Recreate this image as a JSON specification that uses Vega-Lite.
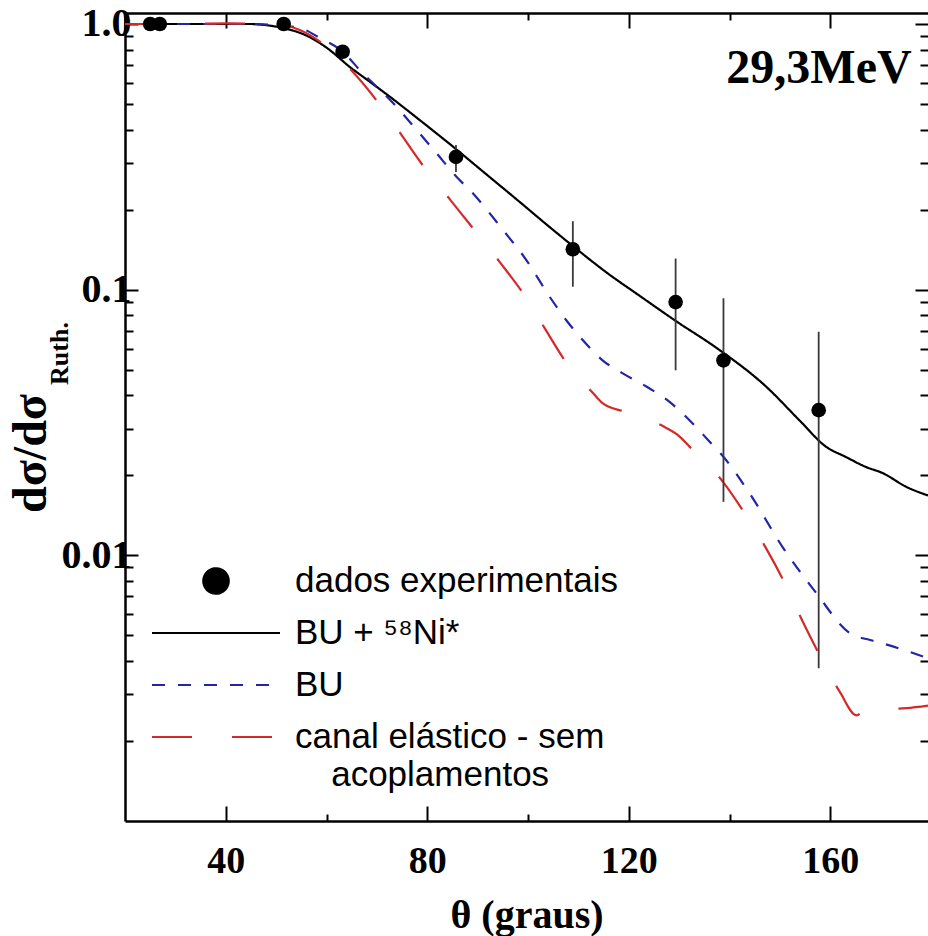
{
  "$schema": "https://vega.github.io/schema/vega-lite/v6.json",
  "width": 803,
  "height": 808,
  "autosize": {"type": "none"},
  "padding": {"left": 125, "top": 13, "right": 0, "bottom": 115},
  "background": "white",
  "config": {
    "view": {"stroke": null},
    "axis": {"domainColor": "black", "tickColor": "black", "grid": false, "labelColor": "black", "titleColor": "black", "tickWidth": 2, "domainWidth": 2.5, "labelOverlap": false, "labelFlush": false}
  },
  "datasets": {
    "curves": [
      {"series": "BU + \u2075\u2078Ni*", "theta": 20, "v": 1.0},
      {"series": "BU + \u2075\u2078Ni*", "theta": 30, "v": 1.0},
      {"series": "BU + \u2075\u2078Ni*", "theta": 40, "v": 1.0},
      {"series": "BU + \u2075\u2078Ni*", "theta": 45, "v": 1.0},
      {"series": "BU + \u2075\u2078Ni*", "theta": 48, "v": 0.99},
      {"series": "BU + \u2075\u2078Ni*", "theta": 51.3, "v": 0.966},
      {"series": "BU + \u2075\u2078Ni*", "theta": 56.0, "v": 0.905},
      {"series": "BU + \u2075\u2078Ni*", "theta": 60.0, "v": 0.815},
      {"series": "BU + \u2075\u2078Ni*", "theta": 64.6, "v": 0.69},
      {"series": "BU + \u2075\u2078Ni*", "theta": 68.6, "v": 0.606},
      {"series": "BU + \u2075\u2078Ni*", "theta": 72.6, "v": 0.532},
      {"series": "BU + \u2075\u2078Ni*", "theta": 77.9, "v": 0.444},
      {"series": "BU + \u2075\u2078Ni*", "theta": 84.5, "v": 0.353},
      {"series": "BU + \u2075\u2078Ni*", "theta": 91.0, "v": 0.279},
      {"series": "BU + \u2075\u2078Ni*", "theta": 97.7, "v": 0.219},
      {"series": "BU + \u2075\u2078Ni*", "theta": 104.3, "v": 0.172},
      {"series": "BU + \u2075\u2078Ni*", "theta": 108.9, "v": 0.146},
      {"series": "BU + \u2075\u2078Ni*", "theta": 115.6, "v": 0.116},
      {"series": "BU + \u2075\u2078Ni*", "theta": 122.2, "v": 0.0947},
      {"series": "BU + \u2075\u2078Ni*", "theta": 129.4, "v": 0.0761},
      {"series": "BU + \u2075\u2078Ni*", "theta": 137.4, "v": 0.0604},
      {"series": "BU + \u2075\u2078Ni*", "theta": 147.3, "v": 0.0431},
      {"series": "BU + \u2075\u2078Ni*", "theta": 153.9, "v": 0.0322},
      {"series": "BU + \u2075\u2078Ni*", "theta": 159.2, "v": 0.0256},
      {"series": "BU + \u2075\u2078Ni*", "theta": 163.0, "v": 0.0235},
      {"series": "BU + \u2075\u2078Ni*", "theta": 167.1, "v": 0.0215},
      {"series": "BU + \u2075\u2078Ni*", "theta": 170.4, "v": 0.0204},
      {"series": "BU + \u2075\u2078Ni*", "theta": 175.1, "v": 0.0181},
      {"series": "BU + \u2075\u2078Ni*", "theta": 179.4, "v": 0.0168},
      {"series": "BU", "theta": 20, "v": 1.0},
      {"series": "BU", "theta": 30, "v": 1.0},
      {"series": "BU", "theta": 40, "v": 1.0},
      {"series": "BU", "theta": 45, "v": 1.0},
      {"series": "BU", "theta": 50, "v": 0.99},
      {"series": "BU", "theta": 54.7, "v": 0.966},
      {"series": "BU", "theta": 58.7, "v": 0.886},
      {"series": "BU", "theta": 63.3, "v": 0.784},
      {"series": "BU", "theta": 66.6, "v": 0.671},
      {"series": "BU", "theta": 73.9, "v": 0.488},
      {"series": "BU", "theta": 77.9, "v": 0.399},
      {"series": "BU", "theta": 81.8, "v": 0.327},
      {"series": "BU", "theta": 85.8, "v": 0.266},
      {"series": "BU", "theta": 89.0, "v": 0.231},
      {"series": "BU", "theta": 95.0, "v": 0.168},
      {"series": "BU", "theta": 99.7, "v": 0.129},
      {"series": "BU", "theta": 104.3, "v": 0.094},
      {"series": "BU", "theta": 107.6, "v": 0.0767},
      {"series": "BU", "theta": 110.9, "v": 0.0645},
      {"series": "BU", "theta": 114.8, "v": 0.0542},
      {"series": "BU", "theta": 118.8, "v": 0.0484},
      {"series": "BU", "theta": 123.5, "v": 0.0432},
      {"series": "BU", "theta": 128.1, "v": 0.0378},
      {"series": "BU", "theta": 132.1, "v": 0.0322},
      {"series": "BU", "theta": 136.1, "v": 0.0267},
      {"series": "BU", "theta": 138.7, "v": 0.0236},
      {"series": "BU", "theta": 144.0, "v": 0.0171},
      {"series": "BU", "theta": 150.6, "v": 0.0107},
      {"series": "BU", "theta": 157.2, "v": 0.00722},
      {"series": "BU", "theta": 163.8, "v": 0.00511},
      {"series": "BU", "theta": 168.1, "v": 0.00479},
      {"series": "BU", "theta": 170.4, "v": 0.00466},
      {"series": "BU", "theta": 179.4, "v": 0.0041},
      {"series": "canal elástico - sem|\u200b\u00a0\u00a0\u00a0\u2009acoplamentos", "theta": 20, "v": 1.0},
      {"series": "canal elástico - sem|\u200b\u00a0\u00a0\u00a0\u2009acoplamentos", "theta": 30, "v": 1.0},
      {"series": "canal elástico - sem|\u200b\u00a0\u00a0\u00a0\u2009acoplamentos", "theta": 40, "v": 1.005},
      {"series": "canal elástico - sem|\u200b\u00a0\u00a0\u00a0\u2009acoplamentos", "theta": 48, "v": 1.0},
      {"series": "canal elástico - sem|\u200b\u00a0\u00a0\u00a0\u2009acoplamentos", "theta": 51.3, "v": 0.99},
      {"series": "canal elástico - sem|\u200b\u00a0\u00a0\u00a0\u2009acoplamentos", "theta": 54.7, "v": 0.95},
      {"series": "canal elástico - sem|\u200b\u00a0\u00a0\u00a0\u2009acoplamentos", "theta": 58.7, "v": 0.858},
      {"series": "canal elástico - sem|\u200b\u00a0\u00a0\u00a0\u2009acoplamentos", "theta": 65.2, "v": 0.661},
      {"series": "canal elástico - sem|\u200b\u00a0\u00a0\u00a0\u2009acoplamentos", "theta": 69.9, "v": 0.517},
      {"series": "canal elástico - sem|\u200b\u00a0\u00a0\u00a0\u2009acoplamentos", "theta": 74.6, "v": 0.389},
      {"series": "canal elástico - sem|\u200b\u00a0\u00a0\u00a0\u2009acoplamentos", "theta": 79.1, "v": 0.294},
      {"series": "canal elástico - sem|\u200b\u00a0\u00a0\u00a0\u2009acoplamentos", "theta": 84.3, "v": 0.221},
      {"series": "canal elástico - sem|\u200b\u00a0\u00a0\u00a0\u2009acoplamentos", "theta": 89.0, "v": 0.171},
      {"series": "canal elástico - sem|\u200b\u00a0\u00a0\u00a0\u2009acoplamentos", "theta": 94.4, "v": 0.127},
      {"series": "canal elástico - sem|\u200b\u00a0\u00a0\u00a0\u2009acoplamentos", "theta": 99.0, "v": 0.097},
      {"series": "canal elástico - sem|\u200b\u00a0\u00a0\u00a0\u2009acoplamentos", "theta": 103.3, "v": 0.0717},
      {"series": "canal elástico - sem|\u200b\u00a0\u00a0\u00a0\u2009acoplamentos", "theta": 107.3, "v": 0.0542},
      {"series": "canal elástico - sem|\u200b\u00a0\u00a0\u00a0\u2009acoplamentos", "theta": 112.9, "v": 0.0408},
      {"series": "canal elástico - sem|\u200b\u00a0\u00a0\u00a0\u2009acoplamentos", "theta": 114.8, "v": 0.0374},
      {"series": "canal elástico - sem|\u200b\u00a0\u00a0\u00a0\u2009acoplamentos", "theta": 119.2, "v": 0.0347},
      {"series": "canal elástico - sem|\u200b\u00a0\u00a0\u00a0\u2009acoplamentos", "theta": 127.1, "v": 0.0304},
      {"series": "canal elástico - sem|\u200b\u00a0\u00a0\u00a0\u2009acoplamentos", "theta": 130.1, "v": 0.028},
      {"series": "canal elástico - sem|\u200b\u00a0\u00a0\u00a0\u2009acoplamentos", "theta": 132.7, "v": 0.0249},
      {"series": "canal elástico - sem|\u200b\u00a0\u00a0\u00a0\u2009acoplamentos", "theta": 138.7, "v": 0.0189},
      {"series": "canal elástico - sem|\u200b\u00a0\u00a0\u00a0\u2009acoplamentos", "theta": 143.0, "v": 0.0144},
      {"series": "canal elástico - sem|\u200b\u00a0\u00a0\u00a0\u2009acoplamentos", "theta": 147.3, "v": 0.0106},
      {"series": "canal elástico - sem|\u200b\u00a0\u00a0\u00a0\u2009acoplamentos", "theta": 151.0, "v": 0.00784},
      {"series": "canal elástico - sem|\u200b\u00a0\u00a0\u00a0\u2009acoplamentos", "theta": 154.5, "v": 0.00565},
      {"series": "canal elástico - sem|\u200b\u00a0\u00a0\u00a0\u2009acoplamentos", "theta": 157.9, "v": 0.00421},
      {"series": "canal elástico - sem|\u200b\u00a0\u00a0\u00a0\u2009acoplamentos", "theta": 161.9, "v": 0.00306},
      {"series": "canal elástico - sem|\u200b\u00a0\u00a0\u00a0\u2009acoplamentos", "theta": 165.2, "v": 0.0025},
      {"series": "canal elástico - sem|\u200b\u00a0\u00a0\u00a0\u2009acoplamentos", "theta": 167.1, "v": 0.00262},
      {"series": "canal elástico - sem|\u200b\u00a0\u00a0\u00a0\u2009acoplamentos", "theta": 175.1, "v": 0.00266},
      {"series": "canal elástico - sem|\u200b\u00a0\u00a0\u00a0\u2009acoplamentos", "theta": 179.4, "v": 0.00272}
    ],
    "pts": [
      {"series": "dados experimentais", "theta": 25.0, "v": 1.0},
      {"series": "dados experimentais", "theta": 26.9, "v": 1.0},
      {"series": "dados experimentais", "theta": 51.5, "v": 1.0},
      {"series": "dados experimentais", "theta": 63.2, "v": 0.786},
      {"series": "dados experimentais", "theta": 85.7, "v": 0.316},
      {"series": "dados experimentais", "theta": 108.9, "v": 0.142},
      {"series": "dados experimentais", "theta": 129.3, "v": 0.0898},
      {"series": "dados experimentais", "theta": 138.8, "v": 0.0542},
      {"series": "dados experimentais", "theta": 157.7, "v": 0.0352}
    ],
    "err": [
      {"theta": 85.7, "lo": 0.277, "hi": 0.35},
      {"theta": 108.9, "lo": 0.1026, "hi": 0.181},
      {"theta": 129.3, "lo": 0.0497, "hi": 0.131},
      {"theta": 138.8, "lo": 0.0159, "hi": 0.0928},
      {"theta": 157.7, "lo": 0.00376, "hi": 0.0694}
    ],
    "ann": [
      {"theta": 176.15, "v": 0.6, "label": "29,3MeV"}
    ]
  },
  "layer": [
    {
      "data": {"name": "curves"},
      "mark": {"type": "line", "strokeWidth": 2.2, "interpolate": "monotone"},
      "encoding": {
        "x": {"field": "theta", "type": "quantitative",
          "scale": {"domain": [20, 179.4], "nice": false, "zero": false},
          "axis": {"orient": "bottom", "values": [40, 80, 120, 160], "format": "d", "tickSize": -15, "domain": true,
            "labelFont": "Liberation Serif", "labelFontWeight": "bold", "labelFontSize": 38, "labelPadding": 36,
            "title": "θ (graus)", "titleFont": "Liberation Serif", "titleFontWeight": "bold", "titleFontSize": 40,
            "titleBaseline": "alphabetic", "titleY": 106}},
        "y": {"field": "v", "type": "quantitative",
          "scale": {"type": "log", "domain": [0.001, 1.1], "nice": false},
          "axis": {"orient": "left", "values": [0.01, 0.1, 1], "labelExpr": "datum.value >= 0.5 ? '1.0' : datum.value >= 0.05 ? '0.1' : '0.01'",
            "tickSize": -13, "domain": true,
            "labelFont": "Liberation Serif", "labelFontWeight": "bold", "labelFontSize": 40, "labelPadding": 7,
            "title": "dσ/dσ", "titleFont": "Liberation Serif", "titleFontWeight": "bold", "titleFontSize": 48,
            "titleAngle": 270, "titleBaseline": "alphabetic", "titleAlign": "center", "titleX": -80, "titleY": 440}},
        "color": {"field": "series", "type": "nominal",
          "scale": {"domain": ["dados experimentais", "BU + \u2075\u2078Ni*", "BU", "canal elástico - sem|\u200b\u00a0\u00a0\u00a0\u2009acoplamentos"], "range": ["black", "black", "#2424a8", "#d42a2a"]},
          "legend": {"orient": "none", "legendX": 26, "legendY": 550, "title": null, "columns": 1,
            "symbolSize": 16384, "symbolStrokeWidth": 2, "clipHeight": 36,
            "labelFont": "Liberation Sans", "labelFontSize": 35, "labelColor": "black", "labelOffset": 14, "labelLimit": 600,
            "rowPadding": 16, "padding": 0,
            "labelExpr": "split(datum.label, '|')",
            "encode": {
              "symbols": {"update": {
                "shape": {"signal": "datum.value === 'dados experimentais' ? 'M0.2,0A0.2,0.2,0,1,1,-0.2,0A0.2,0.2,0,1,1,0.2,0Z' : 'stroke'"},
                "fill": {"signal": "datum.value === 'dados experimentais' ? 'black' : 'transparent'"},
                "stroke": {"signal": "scale('color', datum.value)"},
                "strokeDash": {"signal": "scale('strokeDash', datum.value)"},
                "opacity": {"value": 1}
              }},
              "labels": {"update": {"lineHeight": {"value": 38}}}
            }}},
        "strokeDash": {"field": "series", "type": "nominal",
          "scale": {"domain": ["dados experimentais", "BU + \u2075\u2078Ni*", "BU", "canal elástico - sem|\u200b\u00a0\u00a0\u00a0\u2009acoplamentos"], "range": [[1, 0], [1, 0], [13, 13], [40, 40]]},
          "legend": null}
      }
    },
    {
      "data": {"name": "err"},
      "mark": {"type": "rule", "strokeWidth": 1.8, "color": "#3a3a3a"},
      "encoding": {
        "x": {"field": "theta", "type": "quantitative",
          "scale": {"domain": [20, 179.4], "nice": false, "zero": false},
          "axis": {"orient": "bottom", "values": [60, 100, 140], "tickSize": -7, "labels": false, "domain": false, "title": null}},
        "y": {"field": "lo", "type": "quantitative",
          "scale": {"type": "log", "domain": [0.001, 1.1], "nice": false},
          "axis": {"orient": "left", "values": [0.002, 0.003, 0.004, 0.005, 0.006, 0.007, 0.008, 0.009, 0.02, 0.03, 0.04, 0.05, 0.06, 0.07, 0.08, 0.09, 0.2, 0.3, 0.4, 0.5, 0.6, 0.7, 0.8, 0.9],
            "tickSize": -8, "labels": false, "domain": false,
            "title": "Ruth.", "titleFont": "Liberation Serif", "titleFontWeight": "bold", "titleFontSize": 26,
            "titleAngle": 270, "titleBaseline": "alphabetic", "titleAlign": "center", "titleX": -58, "titleY": 340}},
        "y2": {"field": "hi"}
      }
    },
    {
      "data": {"name": "pts"},
      "mark": {"type": "circle", "size": 215, "opacity": 1},
      "encoding": {
        "x": {"field": "theta", "type": "quantitative",
          "scale": {"domain": [20, 179.4], "nice": false, "zero": false},
          "axis": {"orient": "top", "values": [40, 80, 120, 160], "tickSize": -15, "labels": false, "domain": true, "title": null}},
        "y": {"field": "v", "type": "quantitative",
          "scale": {"type": "log", "domain": [0.001, 1.1], "nice": false},
          "axis": {"orient": "right", "values": [0.01, 0.1, 1], "tickSize": -13, "labels": false, "domain": false, "title": null}},
        "color": {"field": "series", "type": "nominal",
          "scale": {"domain": ["dados experimentais", "BU + \u2075\u2078Ni*", "BU", "canal elástico - sem|\u200b\u00a0\u00a0\u00a0\u2009acoplamentos"], "range": ["black", "black", "#2424a8", "#d42a2a"]},
          "legend": null}
      }
    },
    {
      "data": {"name": "ann"},
      "mark": {"type": "text", "font": "Liberation Serif", "fontWeight": "bold", "fontSize": 48, "align": "right", "baseline": "alphabetic", "color": "black"},
      "encoding": {
        "x": {"field": "theta", "type": "quantitative",
          "scale": {"domain": [20, 179.4], "nice": false, "zero": false},
          "axis": {"orient": "top", "values": [60, 100, 140], "tickSize": -7, "labels": false, "domain": false, "title": null}},
        "y": {"field": "v", "type": "quantitative",
          "scale": {"type": "log", "domain": [0.001, 1.1], "nice": false},
          "axis": {"orient": "right", "values": [0.002, 0.003, 0.004, 0.005, 0.006, 0.007, 0.008, 0.009, 0.02, 0.03, 0.04, 0.05, 0.06, 0.07, 0.08, 0.09, 0.2, 0.3, 0.4, 0.5, 0.6, 0.7, 0.8, 0.9],
            "tickSize": -8, "labels": false, "domain": false, "title": null}},
        "text": {"field": "label"}
      }
    }
  ],
  "resolve": {"axis": {"x": "independent", "y": "independent"}}
}
